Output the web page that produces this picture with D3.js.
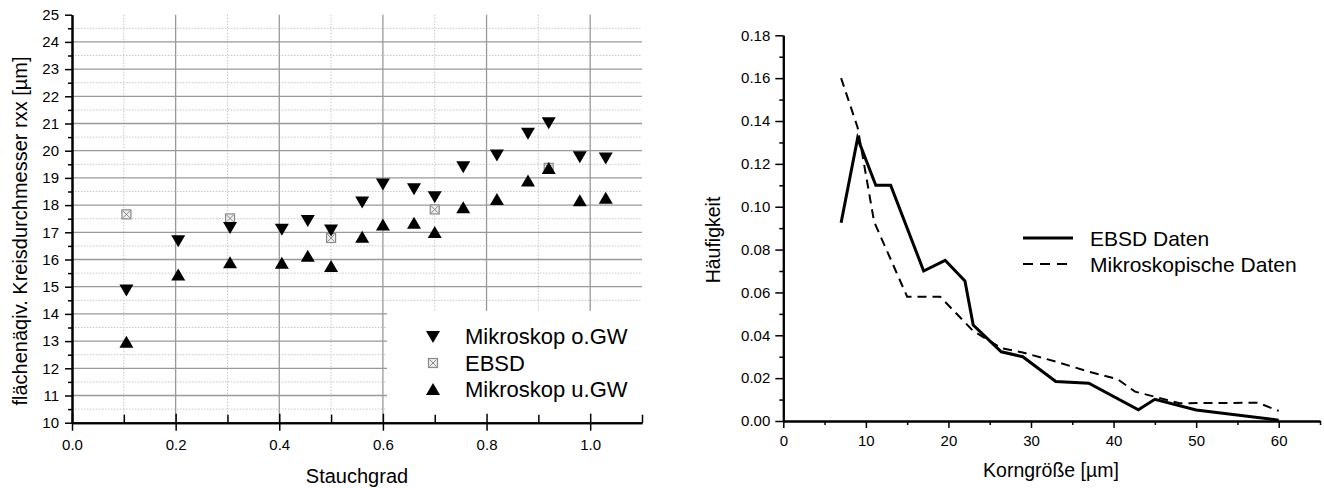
<!DOCTYPE html>
<html>
<head>
<meta charset="utf-8">
<script src="https://cdn.jsdelivr.net/npm/d3@7/dist/d3.min.js"></script>
<style>
  body { margin: 0; background: #fff; }
  text { font-family: "Liberation Sans", Arial, sans-serif; fill: #000; }
</style>
</head>
<body>
<svg id="chart" width="1324" height="488"></svg>
<script>
/* left chart: grain diameter vs. compression */
var stauchgrad = [0.105, 0.205, 0.305, 0.405, 0.455, 0.50, 0.56, 0.60, 0.66, 0.70, 0.755, 0.82, 0.88, 0.92, 0.98, 1.03];
var mikroOben  = [14.88, 16.69, 17.18, 17.11, 17.43, 17.08, 18.11, 18.78, 18.60, 18.31, 19.41, 19.84, 20.64, 21.03, 19.78, 19.73];
var mikroUnten = [12.96, 15.43, 15.88, 15.86, 16.12, 15.74, 16.82, 17.27, 17.33, 16.99, 17.90, 18.21, 18.89, 19.35, 18.16, 18.25];
var ebsdGrad   = [0.105, 0.305, 0.50, 0.70, 0.92];
var ebsdDurchm = [17.66, 17.51, 16.79, 17.84, 19.37];
var leftXTicks = [0, 0.2, 0.4, 0.6, 0.8, 1.0];
var leftYTicks = [10, 11, 12, 13, 14, 15, 16, 17, 18, 19, 20, 21, 22, 23, 24, 25];
var leftLegend = ["Mikroskop o.GW", "EBSD", "Mikroskop u.GW"];

/* right chart: grain size distribution */
var ebsdKorn  = [7, 9, 11.2, 13, 17, 19.6, 22, 23, 26.4, 29, 33, 37, 43, 45, 50, 60];
var ebsdHaeuf = [0.0925, 0.132, 0.110, 0.110, 0.070, 0.075, 0.0653, 0.0448, 0.0323, 0.030, 0.0184, 0.0176, 0.0052, 0.0101, 0.0051, 0.0004];
var mikKorn   = [7, 9, 11, 15, 19, 23, 26.4, 29, 33, 37, 40.5, 42.6, 48, 57.5, 60];
var mikHaeuf  = [0.160, 0.137, 0.093, 0.058, 0.058, 0.042, 0.034, 0.032, 0.0277, 0.023, 0.0195, 0.0137, 0.0083, 0.0085, 0.0047];
var rightXTicks = [0, 10, 20, 30, 40, 50, 60];
var rightYTicks = [0, 0.02, 0.04, 0.06, 0.08, 0.10, 0.12, 0.14, 0.16, 0.18];
var rightLegend = ["EBSD Daten", "Mikroskopische Daten"];

var svg = d3.select("#chart");

// ---------- left chart ----------
var x1 = d3.scaleLinear().domain([0, 1.1]).range([72, 642]);
var y1 = d3.scaleLinear().domain([10, 25]).range([422.7, 14.7]);
var L = svg.append("g");

// grid: dotted minor, solid major
var minorX = d3.range(0.1, 1.0, 0.2);
var minorY = d3.range(10.5, 25, 1);
L.append("g").selectAll("line").data(minorX).enter().append("line")
    .attr("x1", d => x1(d)).attr("x2", d => x1(d))
    .attr("y1", y1(25)).attr("y2", y1(10))
    .attr("stroke", "#c8c8c8").attr("stroke-dasharray", "1.5,1.5");
L.append("g").selectAll("line").data(minorY).enter().append("line")
    .attr("x1", x1(0)).attr("x2", x1(1.1))
    .attr("y1", d => y1(d)).attr("y2", d => y1(d))
    .attr("stroke", "#c8c8c8").attr("stroke-dasharray", "1.5,1.5");
L.append("g").selectAll("line").data(leftXTicks.slice(1)).enter().append("line")
    .attr("x1", d => x1(d)).attr("x2", d => x1(d))
    .attr("y1", y1(25)).attr("y2", y1(10))
    .attr("stroke", "#999").attr("stroke-width", 1.3);
L.append("g").selectAll("line").data(leftYTicks.slice(1, -1)).enter().append("line")
    .attr("x1", x1(0)).attr("x2", x1(1.1))
    .attr("y1", d => y1(d)).attr("y2", d => y1(d))
    .attr("stroke", "#999").attr("stroke-width", 1.3);

// markers
var downTri = "M-7,-5.5L7,-5.5L0,6.5Z";
var upTri = "M-7,5.5L7,5.5L0,-6.5Z";

function ebsdMarker(g) {
    g.append("rect").attr("x", -4.5).attr("y", -4.5).attr("width", 9).attr("height", 9)
        .attr("fill", "#eee").attr("stroke", "#8a8a8a").attr("stroke-width", 1.2);
    g.append("path").attr("d", "M-3.5,-3.5L3.5,3.5M3.5,-3.5L-3.5,3.5")
        .attr("stroke", "#8a8a8a").attr("stroke-width", 1);
}

L.append("g").selectAll("g").data(ebsdGrad).enter().append("g")
    .attr("transform", (d, i) => "translate(" + x1(d) + "," + y1(ebsdDurchm[i]) + ")")
    .each(function() { ebsdMarker(d3.select(this)); });
L.append("g").selectAll("path").data(stauchgrad).enter().append("path")
    .attr("d", downTri).attr("fill", "#000")
    .attr("transform", (d, i) => "translate(" + x1(d) + "," + y1(mikroOben[i]) + ")");
L.append("g").selectAll("path").data(stauchgrad).enter().append("path")
    .attr("d", upTri).attr("fill", "#000")
    .attr("transform", (d, i) => "translate(" + x1(d) + "," + y1(mikroUnten[i]) + ")");

// legend box hides grid
L.append("rect").attr("x", 387).attr("y", 311).attr("width", 262).attr("height", 111).attr("fill", "#fff");
var lg = L.append("g");
leftLegend.forEach(function(name, i) {
    var cy = 336.5 + i * 26.5;
    var m = lg.append("g").attr("transform", "translate(433," + cy + ")");
    if (i === 0) m.append("path").attr("d", downTri).attr("fill", "#000");
    else if (i === 1) ebsdMarker(m);
    else m.append("path").attr("d", upTri).attr("fill", "#000");
    lg.append("text").attr("x", 465).attr("y", cy + 7.5)
        .style("font-size", "22px").text(name);
});

// axes
var lxAxis = L.append("g").attr("transform", "translate(0," + y1(10) + ")")
    .call(d3.axisBottom(x1).tickValues(leftXTicks).tickSize(8).tickSizeOuter(0).tickFormat(d3.format(".1f")));
lxAxis.selectAll(".tick line").attr("y1", -9).attr("stroke-width", 1.5);
lxAxis.selectAll("text").attr("y", 17).style("font-size", "15px");
L.append("g").attr("transform", "translate(0," + y1(10) + ")")
    .call(d3.axisBottom(x1).tickValues(minorX.concat([1.1])).tickSize(-8).tickSizeOuter(0).tickFormat(""))
    .selectAll(".tick line").attr("stroke-width", 1.5);

var lyAxis = L.append("g").attr("transform", "translate(" + x1(0) + ",0)")
    .call(d3.axisLeft(y1).tickValues(leftYTicks).tickSize(7).tickSizeOuter(0).tickFormat(d3.format("d")));
lyAxis.selectAll(".tick line").attr("stroke-width", 1.5);
lyAxis.selectAll("text").attr("x", -13).style("font-size", "15px");
L.append("g").attr("transform", "translate(" + x1(0) + ",0)")
    .call(d3.axisLeft(y1).tickValues(minorY).tickSize(4).tickSizeOuter(0).tickFormat(""))
    .selectAll(".tick line").attr("stroke-width", 1.5);
L.selectAll(".domain").attr("stroke-width", 2);

L.append("text").attr("x", 357).attr("y", 483).attr("text-anchor", "middle")
    .style("font-size", "20px").text("Stauchgrad");
L.append("text").attr("transform", "translate(27,231) rotate(-90)").attr("text-anchor", "middle")
    .style("font-size", "20px").text("flächenäqiv. Kreisdurchmesser rxx [µm]");

// ---------- right chart ----------
var x2 = d3.scaleLinear().domain([0, 65]).range([783.3, 1320]);
var y2 = d3.scaleLinear().domain([0, 0.18]).range([421, 35.3]);
var R = svg.append("g");

var line = d3.line().x(d => x2(d[0])).y(d => y2(d[1]));
R.append("path").datum(mikKorn.map((d, i) => [d, mikHaeuf[i]]))
    .attr("d", line).attr("fill", "none").attr("stroke", "#000")
    .attr("stroke-width", 2).attr("stroke-dasharray", "9,6");
R.append("path").datum(ebsdKorn.map((d, i) => [d, ebsdHaeuf[i]]))
    .attr("d", line).attr("fill", "none").attr("stroke", "#000")
    .attr("stroke-width", 3).attr("stroke-linejoin", "miter");

var rxAxis = R.append("g").attr("transform", "translate(0," + y2(0) + ")")
    .call(d3.axisBottom(x2).tickValues(rightXTicks).tickSize(7).tickSizeOuter(0).tickFormat(d3.format("d")));
rxAxis.selectAll("text").attr("y", 14).style("font-size", "15px");
R.append("g").attr("transform", "translate(0," + y2(0) + ")")
    .call(d3.axisBottom(x2).tickValues(d3.range(5, 70, 10)).tickSize(4).tickSizeOuter(0).tickFormat(""));
var ryAxis = R.append("g").attr("transform", "translate(" + x2(0) + ",0)")
    .call(d3.axisLeft(y2).tickValues(rightYTicks).tickSize(8).tickSizeOuter(0).tickFormat(d3.format(".2f")));
ryAxis.selectAll("text").attr("x", -13).style("font-size", "15px");
R.append("g").attr("transform", "translate(" + x2(0) + ",0)")
    .call(d3.axisLeft(y2).tickValues(d3.range(0.01, 0.18, 0.02)).tickSize(4).tickSizeOuter(0).tickFormat(""));
R.selectAll(".domain").attr("stroke-width", 2);
R.selectAll(".tick line").attr("stroke-width", 1.5);

// legend
rightLegend.forEach(function(name, i) {
    var cy = 238 + i * 26;
    R.append("line").attr("x1", 1023).attr("x2", 1073).attr("y1", cy).attr("y2", cy)
        .attr("stroke", "#000").attr("stroke-width", i === 0 ? 3 : 2)
        .attr("stroke-dasharray", i === 0 ? null : "10,7");
    R.append("text").attr("x", 1090).attr("y", cy + 7.5)
        .style("font-size", "21px").text(name);
});

R.append("text").attr("x", 1051).attr("y", 477).attr("text-anchor", "middle")
    .style("font-size", "19.5px").text("Korngröße [µm]");
R.append("text").attr("transform", "translate(720,240) rotate(-90)").attr("text-anchor", "middle")
    .style("font-size", "19.5px").text("Häufigkeit");
</script>
</body>
</html>
